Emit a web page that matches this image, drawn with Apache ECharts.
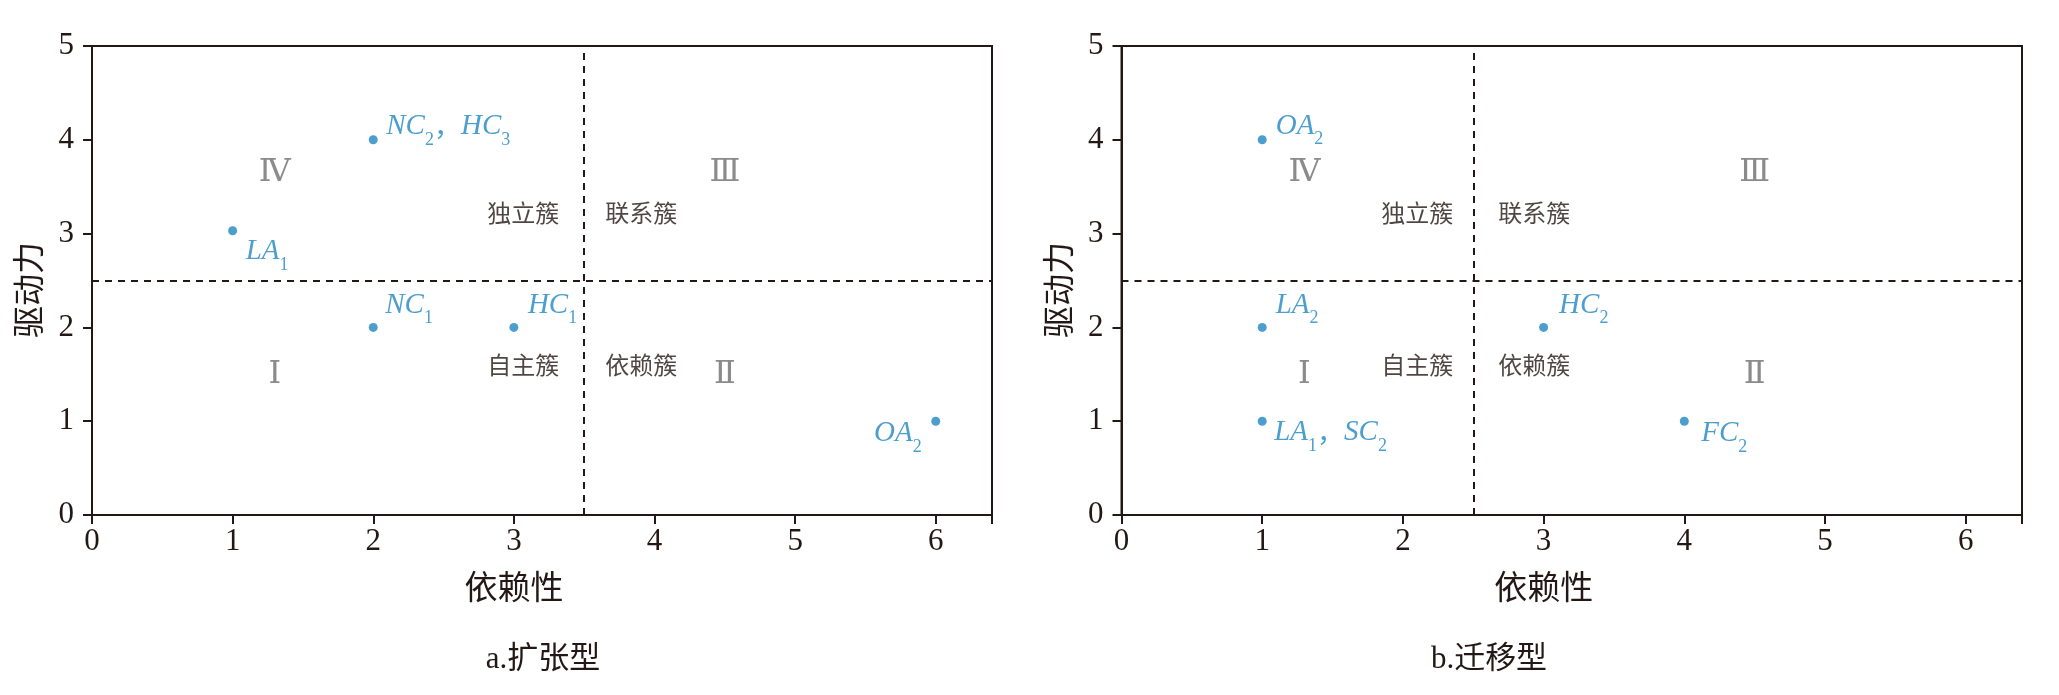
<!DOCTYPE html>
<html><head><meta charset="utf-8">
<script src="https://cdn.jsdelivr.net/npm/echarts@6/dist/echarts.min.js"></script>
<style>html,body{margin:0;padding:0;background:#fff}#c{width:2059px;height:695px}</style>
</head><body><div id="c"></div>
<script>
// ---------- data ----------
// Panel a: 扩张型
const namesA  = ['NC2，HC3', 'LA1', 'NC1', 'HC1', 'OA2'];
const dependA = [2, 1, 2, 3, 6];
const driveA  = [4, 3.03, 2, 2, 1];
// Panel b: 迁移型
const namesB  = ['OA2', 'LA2', 'HC2', 'LA1，SC2', 'FC2'];
const dependB = [1, 1, 3, 1, 4];
const driveB  = [4, 2, 2, 1, 1];
// quadrant split values [依赖性, 驱动力]
const splitA = [3.5, 2.5];
const splitB = [2.5, 2.5];
const xTicks = [0, 1, 2, 3, 4, 5, 6];
const yTicks = [0, 1, 2, 3, 4, 5];
const titles = ['a.扩张型', 'b.迁移型'];
const xName = '依赖性';
const yName = '驱动力';
const quadNames = ['Ⅰ', 'Ⅱ', 'Ⅲ', 'Ⅳ'];
const clusterNames = ['自主簇', '依赖簇', '联系簇', '独立簇'];

// ---------- layout / style ----------
const BLUE = '#1f86c2', INK = '#231815', GRAY = '#6e6e6e';
const SERIF = "'Liberation Serif', 'Times New Roman', serif";
const CJK = "'Noto Sans CJK SC', sans-serif";
const BASE = 24; // label line top -> main baseline
// label offsets [dx, baselineDy, align]
const offA = [[13, -4], [13, 30], [12, -12.7], [14, -12.7], [-14, 21.6, 'right']];
const offB = [[13.5, -4.3], [13.5, -12.7], [15.5, -12.7], [12, 20.7], [17, 21.6]];
// annotation anchors (data coords)
const quadPos = [[1.3, 1.5], [4.5, 1.5], [4.5, 3.65], [1.3, 3.65]];
const clusterY = [1.6, 1.6, 3.22, 3.22];
const clusterSide = ['right', 'left', 'left', 'right'];
const clusterGap = [[-25, 21], [-20, 25]];

const grids = [
  {left: 92, right: 2059 - 992, top: 46, bottom: 180},
  {left: 1121.5, right: 37, top: 46, bottom: 180}
];

function richText(name) {
  return name.replace(/([A-Z]+)(\d)/g, '{i|$1}{s|$2}').replace(/，/g, '{c|，}');
}
const richStyles = {
  i: {fontFamily: SERIF, fontStyle: 'italic', fontSize: 29, color: BLUE, lineHeight: 30, verticalAlign: 'top'},
  s: {fontFamily: SERIF, fontSize: 18, color: BLUE, lineHeight: 18, padding: [19, 0, 0, 0], verticalAlign: 'top'},
  c: {fontFamily: CJK, fontSize: 27, color: BLUE, lineHeight: 30, verticalAlign: 'top'}
};

function pointSeries(idx, names, xs, ys, offs, split) {
  return {
    type: 'scatter', xAxisIndex: idx, yAxisIndex: idx, symbolSize: 9,
    itemStyle: {color: BLUE}, z: 5,
    data: xs.map((x, i) => ({
      value: [x, ys[i]], name: names[i],
      label: {
        show: true,
        formatter: richText(names[i]),
        position: [4.5 + offs[i][0], 4.5 + offs[i][1] - BASE],
        align: offs[i][2] === 'right' ? 'right' : 'left',
        verticalAlign: 'top',
        rich: richStyles
      }
    })),
    markLine: {
      silent: true, symbol: 'none', animation: false,
      label: {show: false},
      lineStyle: {type: [7, 6], color: INK, width: 2},
      data: [{xAxis: split[0]}, {yAxis: split[1]}]
    }
  };
}

function annotSeries(idx, split, gaps) {
  const data = [];
  quadPos.forEach((p, i) => data.push({
    value: p,
    label: {show: true, formatter: quadNames[i], position: 'inside', align: 'center', verticalAlign: 'middle',
      fontFamily: "'DejaVu Serif', " + SERIF, fontSize: 32, color: GRAY}
  }));
  clusterNames.forEach((t, i) => {
    const right = clusterSide[i] === 'right';
    data.push({
      value: [split[0], clusterY[i]],
      label: {show: true, formatter: t, position: 'inside',
        align: right ? 'right' : 'left', verticalAlign: 'middle',
        offset: [right ? gaps[0] : gaps[1], 0],
        fontFamily: CJK, fontSize: 24, color: INK}
    });
  });
  return {type: 'scatter', xAxisIndex: idx, yAxisIndex: idx, symbolSize: 0, silent: true, z: 4, data};
}

function xAxisOf(idx) {
  return {
    gridIndex: idx, type: 'value', min: 0, max: 6.4, interval: 1,
    axisLine: {show: true, onZero: false, lineStyle: {color: INK, width: 2}},
    axisTick: {show: true, length: 9, lineStyle: {color: INK, width: 2}},
    splitLine: {show: false},
    axisLabel: {fontFamily: SERIF, fontSize: 31, color: INK, margin: 11,
      formatter: v => xTicks.includes(v) ? String(v) : ''},
    name: xName, nameLocation: 'middle', nameGap: 55,
    nameTextStyle: {fontFamily: CJK, fontSize: 33, color: INK, padding: [0, 56, 0, 0]}
  };
}
function yAxisOf(idx) {
  return {
    gridIndex: idx, type: 'value', min: 0, max: 5, interval: 1,
    axisLine: {show: true, onZero: false, lineStyle: {color: INK, width: 2}},
    axisTick: {show: true, length: 9, lineStyle: {color: INK, width: 2}},
    splitLine: {show: false},
    axisLabel: {fontFamily: SERIF, fontSize: 31, color: INK, margin: 18,
      formatter: v => yTicks.includes(v) ? String(v) : ''},
    name: yName, nameLocation: 'middle', nameRotate: 90, nameGap: 48,
    nameTextStyle: {fontFamily: CJK, fontSize: 32, color: INK, padding: [0, 19, 0, 0]}
  };
}

const chart = echarts.init(document.getElementById('c'), null, {renderer: 'canvas'});
chart.setOption({
  animation: false,
  backgroundColor: '#fff',
  grid: grids.map(g => Object.assign({show: true, borderColor: INK, borderWidth: 2, containLabel: false}, g)),
  xAxis: [xAxisOf(0), xAxisOf(1)],
  yAxis: [yAxisOf(0), yAxisOf(1)],
  series: [
    pointSeries(0, namesA, dependA, driveA, offA, splitA),
    pointSeries(1, namesB, dependB, driveB, offB, splitB),
    annotSeries(0, splitA, clusterGap[0]),
    annotSeries(1, splitB, clusterGap[1])
  ],
  graphic: [
    {type: 'text', x: 543, y: 660, style: {text: titles[0], align: 'center', verticalAlign: 'middle',
      font: "31px 'Liberation Serif', 'Noto Sans CJK SC'", fill: INK}},
    {type: 'text', x: 1489, y: 660, style: {text: titles[1], align: 'center', verticalAlign: 'middle',
      font: "31px 'Liberation Serif', 'Noto Sans CJK SC'", fill: INK}}
  ]
});
</script></body></html>
